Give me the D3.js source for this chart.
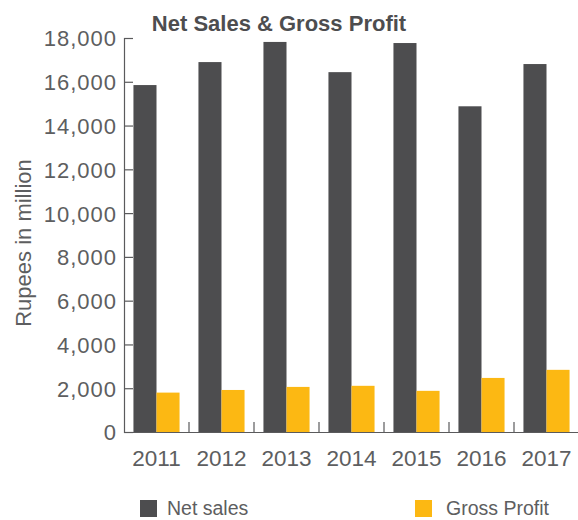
<!DOCTYPE html>
<html>
<head>
<meta charset="utf-8">
<script src="https://cdn.jsdelivr.net/npm/d3@7"></script>
<style>
  body { margin: 0; background: #fff; }
  svg text { font-family: "Liberation Sans", Arial, sans-serif; fill: #5d5e60; }
</style>
</head>
<body>
<svg width="578" height="520"></svg>
<script>
const anos = ["2011", "2012", "2013", "2014", "2015", "2016", "2017"];
const vendas_liquidas = [15850, 16900, 17820, 16440, 17770, 14880, 16810];
const lucro_bruto = [1800, 1920, 2060, 2110, 1880, 2470, 2840];
const series = ["Net sales", "Gross Profit"];
const ticks_y = [0, 2000, 4000, 6000, 8000, 10000, 12000, 14000, 16000, 18000];

const cores = ["#4d4d4f", "#fcb813"];
const cor_eixo = "#5a5a5c";

const svg = d3.select("svg");

const margin = { top: 38, right: 0, bottom: 88, left: 124 };
const w = 579, h = 520;

const x = d3.scaleBand()
    .domain(anos)
    .range([margin.left, w - margin.right])
    .paddingInner(0)
    .paddingOuter(0);

const x_serie = d3.scaleBand()
    .domain(series)
    .range([0, x.bandwidth()])
    .paddingInner(0)
    .paddingOuter(0.41);

const y = d3.scaleLinear()
    .domain([0, 18000])
    .range([h - margin.bottom, margin.top]);

const dados = anos.map((a, i) => ({ ano: a, valores: [vendas_liquidas[i], lucro_bruto[i]] }));

// barras
const grupos = svg.append("g")
    .selectAll("g")
    .data(dados)
    .join("g")
    .attr("transform", d => "translate(" + x(d.ano) + ",0)");

grupos.selectAll("rect")
    .data(d => d.valores.map((v, i) => ({ serie: series[i], valor: v, i: i })))
    .join("rect")
    .attr("x", d => x_serie(d.serie))
    .attr("y", d => y(d.valor))
    .attr("width", x_serie.bandwidth())
    .attr("height", d => y(0) - y(d.valor))
    .attr("fill", d => cores[d.i]);

// eixo y
const eixo_y = svg.append("g")
    .attr("transform", "translate(" + margin.left + ",0)")
    .call(d3.axisLeft(y).tickValues(ticks_y).tickFormat(d3.format(",")).tickSize(-9).tickPadding(7));
eixo_y.selectAll("text")
    .style("font-size", "22px")
    .style("letter-spacing", "1px")
    .attr("dy", "0.36em");

// eixo x
const eixo_x = svg.append("g")
    .attr("transform", "translate(0," + y(0) + ")")
    .call(d3.axisBottom(x).tickSize(0).tickPadding(18));
eixo_x.selectAll("text").style("font-size", "22.5px");

// marcas entre as categorias
svg.append("g")
    .selectAll("line")
    .data(anos.slice(0, anos.length - 1))
    .join("line")
    .attr("x1", d => x(d) + x.step())
    .attr("x2", d => x(d) + x.step())
    .attr("y1", y(0))
    .attr("y2", y(0) - 10)
    .attr("stroke", cor_eixo)
    .attr("stroke-width", 1.2);

svg.selectAll(".domain, .tick line").attr("stroke", cor_eixo).attr("stroke-width", 1.2);

// titulo
svg.append("text")
    .attr("x", 279)
    .attr("y", 31)
    .attr("text-anchor", "middle")
    .style("font-size", "22px")
    .style("font-weight", "bold")
    .style("fill", "#4d4d4f")
    .text("Net Sales & Gross Profit");

// rotulo do eixo y
svg.append("text")
    .attr("transform", "translate(31," + 243 + ") rotate(-90)")
    .attr("text-anchor", "middle")
    .style("font-size", "22px")
    .text("Rupees in million");

// legenda
const legenda_x = [140, 415];
const legenda = svg.append("g")
    .selectAll("g")
    .data(series)
    .join("g")
    .attr("transform", (d, i) => "translate(" + legenda_x[i] + ",500)");

legenda.append("rect")
    .attr("width", 17)
    .attr("height", 17)
    .attr("fill", (d, i) => cores[i]);

legenda.append("text")
    .attr("x", (d, i) => i === 0 ? 27 : 31)
    .attr("y", 15)
    .style("font-size", "19.5px")
    .text(d => d);
</script>
</body>
</html>
